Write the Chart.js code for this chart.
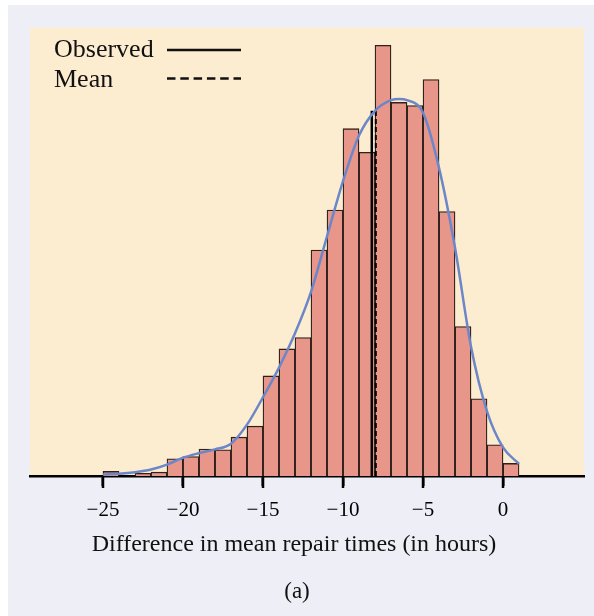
<!DOCTYPE html>
<html lang="en">
<head>
  <meta charset="UTF-8" />
  <title>Difference in mean repair times</title>
  <script src="https://cdn.jsdelivr.net/npm/chart.js"></script>
  <style>
    html, body { margin: 0; padding: 0; background: #ffffff; }
    #wrap { position: relative; width: 594px; height: 616px; }
  </style>
</head>
<body>
  <div id="wrap"><canvas id="chart" width="594" height="616"></canvas></div>
  <script>
    // histogram bins (left edges, width 1 hour) and their heights
    const binStarts = [-25, -24, -23, -22, -21, -20, -19, -18, -17, -16, -15, -14, -13,
                       -12, -11, -10, -9, -8, -7, -6, -5, -4, -3, -2, -1, 0];
    const binCounts = [1.2, 0, 0.7, 1.0, 4.5, 5.1, 7.1, 6.9, 10.2, 13.1, 26.3, 33.4, 36.4,
                       59.4, 69.9, 91.3, 85.1, 113.2, 98.2, 97.4, 104.2, 69.5, 39.3, 20.3, 8.2, 3.3];

    // smooth density curve
    const curveX = [-25, -24, -23, -22, -21, -20, -19, -18, -17, -16, -15, -14, -13, -12,
                    -11, -10, -9, -8, -7, -6.5, -6, -5, -4, -3, -2, -1, 0, 1];
    const curveY = [0.4, 0.6, 1.0, 1.7, 3.0, 4.8, 6.0, 7.0, 8.5, 13.5, 20.7, 28.5, 37.5, 48.4,
                    63, 77.5, 89.5, 96, 98.8, 99.1, 98.8, 95.5, 81, 60, 34, 17, 7.5, 3.2];

    const observedValue = -8.2;
    const meanValue = -7.95;
    const markerTop = 96;

    const tickValues = [-25, -20, -15, -10, -5, 0];
    const xMin = -29.56, xMax = 5.06, yMax = 117.9;
    const xTitle = 'Difference in mean repair times (in hours)';

    const serif = '"Liberation Serif", "Times New Roman", serif';

    const bars = binStarts.map((s, i) => ({ x: s + 0.5, y: binCounts[i] }));
    const curve = curveX.map((x, i) => ({ x, y: curveY[i] }));

    // frame, cream panel, tick marks, legend, axis title and the "(a)" caption
    const decor = {
      id: 'decor',
      beforeDraw(chart) {
        const { ctx, chartArea: a } = chart;
        ctx.save();
        ctx.fillStyle = '#eeeef6';
        ctx.fillRect(8, 5, 594 - 8, 616 - 5);
        ctx.fillStyle = '#fdedd0';
        ctx.fillRect(a.left, a.top, a.right - a.left, a.bottom - a.top);
        ctx.restore();
      },
      afterDraw(chart) {
        const { ctx, chartArea: a } = chart;
        const sx = chart.scales.x;
        ctx.save();
        ctx.strokeStyle = '#000';
        ctx.lineWidth = 2.5;
        tickValues.forEach(v => {
          const px = Math.round(sx.getPixelForValue(v));
          ctx.beginPath(); ctx.moveTo(px, a.bottom); ctx.lineTo(px, a.bottom + 12); ctx.stroke();
        });
        ctx.fillStyle = '#111';
        ctx.strokeStyle = '#111';
        ctx.font = '26px ' + serif;
        ctx.textBaseline = 'middle';
        ctx.fillText('Observed', 54, 50);
        ctx.fillText('Mean', 54, 80);
        ctx.lineWidth = 2.5;
        ctx.beginPath(); ctx.moveTo(167, 50); ctx.lineTo(241, 50); ctx.stroke();
        ctx.setLineDash([8.5, 4.8]);
        ctx.beginPath(); ctx.moveTo(167, 78.5); ctx.lineTo(241, 78.5); ctx.stroke();
        ctx.setLineDash([]);
        ctx.textAlign = 'center';
        ctx.font = '24px ' + serif;
        ctx.fillText(xTitle, 294, 545);
        ctx.font = '23px ' + serif;
        ctx.fillText('(a)', 297, 592);
        ctx.restore();
      }
    };

    new Chart(document.getElementById('chart'), {
      type: 'bar',
      data: {
        datasets: [
          {
            type: 'line',
            label: 'Density',
            data: curve,
            borderColor: '#6b87c9',
            borderWidth: 2.5,
            pointRadius: 0,
            cubicInterpolationMode: 'monotone',
            fill: false,
            order: 0
          },
          {
            type: 'line',
            label: 'Observed',
            data: [{ x: observedValue, y: 0 }, { x: observedValue, y: markerTop }],
            borderColor: '#000',
            borderWidth: 2.5,
            pointRadius: 0,
            order: 1
          },
          {
            type: 'line',
            label: 'Mean',
            data: [{ x: meanValue, y: 0 }, { x: meanValue, y: markerTop }],
            borderColor: '#000',
            borderWidth: 2,
            borderDash: [5, 3],
            pointRadius: 0,
            order: 1
          },
          {
            label: 'Frequency',
            data: bars,
            backgroundColor: '#e8968a',
            borderColor: '#2e211b',
            borderWidth: 1.3,
            barPercentage: 1,
            categoryPercentage: 1,
            order: 2
          }
        ]
      },
      options: {
        responsive: false,
        animation: false,
        layout: { padding: { left: 30, right: 10, top: 27.5, bottom: 0 } },
        plugins: {
          legend: { display: false },
          tooltip: { enabled: false }
        },
        scales: {
          x: {
            type: 'linear',
            min: xMin,
            max: xMax,
            offset: false,
            afterBuildTicks: s => { s.ticks = tickValues.map(v => ({ value: v })); },
            afterFit: s => { s.height = 140; },
            grid: {
              display: true,
              offset: false,
              drawOnChartArea: false,
              drawTicks: true,
              tickLength: 10,
              tickWidth: 2,
              tickColor: '#000'
            },
            border: { display: true, color: '#000', width: 2.5 },
            ticks: {
              color: '#000',
              padding: 12,
              font: { family: serif, size: 21 },
              callback: v => v < 0 ? '\u2212' + Math.abs(v) : String(v)
            },
            title: { display: false }
          },
          y: {
            display: false,
            min: 0,
            max: yMax
          }
        }
      },
      plugins: [decor]
    });
  </script>
</body>
</html>
